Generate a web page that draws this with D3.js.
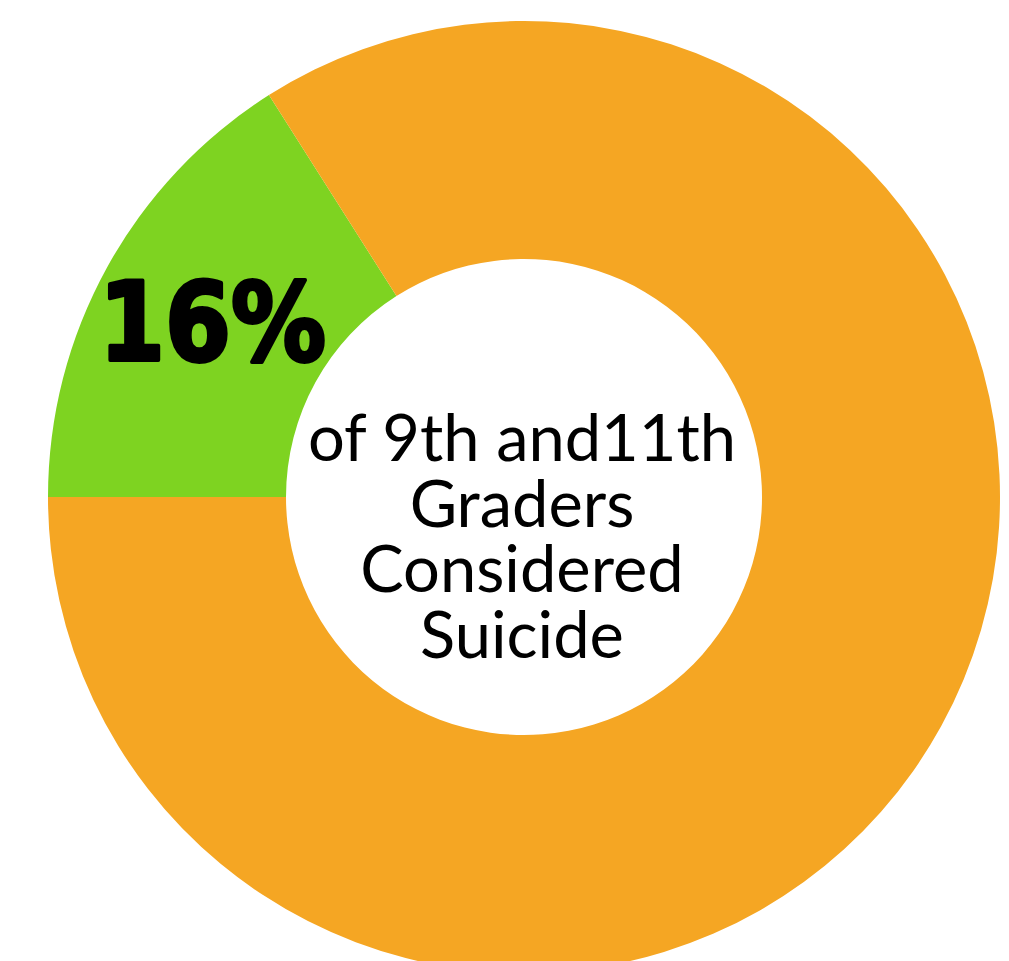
<!DOCTYPE html>
<html><head><meta charset="utf-8">
<script src="https://cdn.jsdelivr.net/npm/d3@7/dist/d3.min.js"></script>
<style>html,body{margin:0;padding:0;background:#fff;overflow:hidden}</style>
</head><body>
<svg id="c" width="1009" height="961"></svg>
<script>
const categories = ["Considered suicide", "Did not consider"];
const values = [16, 84];
const colors = ["#7ED321", "#F5A623"];
const bigLabel = "16%";
const centerLines = ["of 9th and11th", "Graders", "Considered", "Suicide"];

const svg = d3.select("#c");
const cx = 524, cy = 497, rOuter = 476, rInner = 238;
const g = svg.append("g").attr("transform", `translate(${cx},${cy})`);

const pie = d3.pie().sort(null).startAngle(-Math.PI / 2).endAngle(1.5 * Math.PI).value(d => d);
const arc = d3.arc().innerRadius(rInner).outerRadius(rOuter);
const color = d3.scaleOrdinal().domain(categories).range(colors);

g.selectAll("path").data(pie(values)).join("path")
  .attr("d", arc)
  .attr("fill", (d, i) => color(categories[i]));

svg.append("text")
  .attr("x", 99).attr("y", 360)
  .attr("font-family", "DejaVu Sans")
  .attr("font-weight", "bold")
  .attr("font-size", 109)
  .attr("textLength", 227).attr("lengthAdjust", "spacingAndGlyphs")
  .attr("fill", "#000")
  .attr("stroke", "#000").attr("stroke-width", 4).attr("stroke-linejoin", "round")
  .text(bigLabel);

const center = svg.append("text")
  .attr("text-anchor", "middle")
  .attr("font-family", "Lato")
  .attr("font-size", 65)
  .attr("fill", "#000");
centerLines.forEach((t, i) => {
  center.append("tspan")
    .attr("x", 522)
    .attr("y", 461 + i * 65.7)
    .text(t);
});
</script>
</body></html>
